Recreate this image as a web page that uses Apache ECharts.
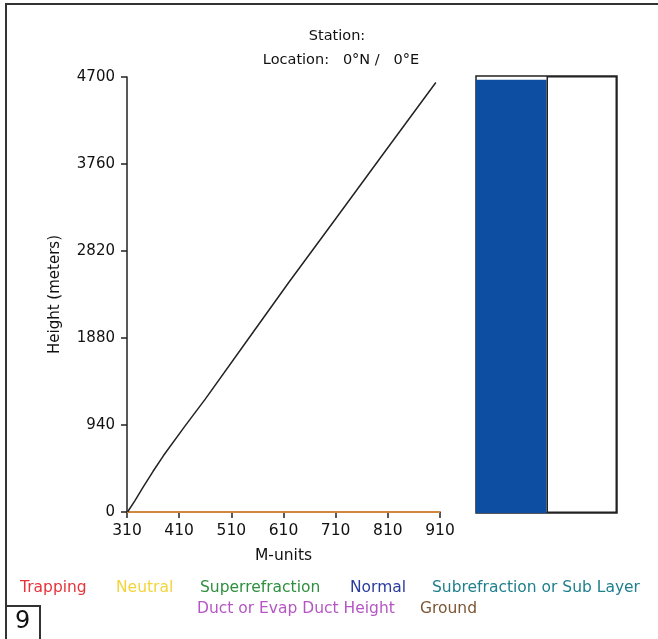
<!DOCTYPE html>
<html>
<head>
<meta charset="utf-8">
<script src="https://cdn.jsdelivr.net/npm/echarts@6/dist/echarts.min.js"></script>
<style>
  html, body { margin: 0; padding: 0; background: #fff; }
  #main { width: 658px; height: 639px; }
</style>
</head>
<body>
<div id="main"></div>
<script>
// M-unit profile
var mUnits = [311, 325, 340, 360, 380, 420, 460, 540, 620, 709, 800, 902];
var heights = [0, 120, 260, 440, 610, 920, 1220, 1850, 2480, 3160, 3860, 4640];

// ground line along the bottom
var groundM = [310, 910];
var groundH = [0, 0];

// right hand column: refraction class by height
var columnNames = ["Normal", "Layer"];
var columnValues = [4660, 4700];

var legendNames = ["Trapping", "Neutral", "Superrefraction", "Normal", "Subrefraction or Sub Layer",
  "Duct or Evap Duct Height", "Ground"];
var legendColors = ["#e8333b", "#f4d43c", "#2f8f3f", "#2b3c9c", "#1f7f8c", "#b556c4", "#7c5634"];

var chartDom = document.getElementById("main");
var myChart = echarts.init(chartDom);
var font = "DejaVu Sans";

// legend as coloured words (x, y in pixels)
var legendPos = [[20, 589], [116, 589], [200, 589], [350, 589], [432, 589], [197, 610], [420, 610]];
var legendText = legendNames.map(function (name, i) {
  return {
    type: "text",
    left: legendPos[i][0],
    top: legendPos[i][1] - 9,
    style: { text: name, fill: legendColors[i], font: "15.5px " + font }
  };
});

var option = {
  animation: false,
  backgroundColor: "#fff",
  title: [
    { text: "Station:", left: 332, top: 24, textAlign: "center",
      textStyle: { fontSize: 14.5, fontWeight: "normal", color: "#111", fontFamily: font } },
    { text: "Location:   0°N /   0°E", left: 336, top: 48, textAlign: "center",
      textStyle: { fontSize: 14.5, fontWeight: "normal", color: "#111", fontFamily: font } }
  ],
  grid: [
    { left: 127, top: 77, width: 313, height: 435 },
    { left: 476, top: 76, width: 141, height: 437, show: true, borderColor: "#222", borderWidth: 1.5, backgroundColor: "transparent" }
  ],
  xAxis: [
    {
      gridIndex: 0, type: "value", min: 310, max: 910, interval: 100,
      name: "M-units", nameLocation: "middle", nameGap: 36,
      nameTextStyle: { fontSize: 15.5, color: "#111", fontFamily: font },
      axisLine: { onZero: false, lineStyle: { color: "#222", width: 1.5 } },
      axisTick: { length: 6, lineStyle: { color: "#222", width: 1.5 } },
      axisLabel: { margin: 11, fontSize: 15.5, color: "#111", fontFamily: font },
      splitLine: { show: false }
    },
    {
      gridIndex: 1, type: "category", data: columnNames, show: false
    }
  ],
  yAxis: [
    {
      gridIndex: 0, type: "value", min: 0, max: 4700, interval: 940,
      name: "Height (meters)", nameLocation: "middle", nameGap: 64,
      nameTextStyle: { fontSize: 15, color: "#111", fontFamily: font },
      axisLine: { show: true, lineStyle: { color: "#222", width: 1.5 } },
      axisTick: { show: true, length: 6, lineStyle: { color: "#222", width: 1.5 } },
      axisLabel: { margin: 12, fontSize: 15, color: "#111", fontFamily: font,
        formatter: function (v) { return String(v); } },
      splitLine: { show: false }
    },
    {
      gridIndex: 1, type: "value", min: 0, max: 4700, show: false, splitLine: { show: false }
    }
  ],
  series: [
    {
      name: "Ground", type: "line", xAxisIndex: 0, yAxisIndex: 0,
      data: groundM.map(function (m, i) { return [m, groundH[i]]; }),
      showSymbol: false, lineStyle: { color: "#d0873f", width: 2 }, z: 3
    },
    {
      name: "M-units", type: "line", xAxisIndex: 0, yAxisIndex: 0,
      data: mUnits.map(function (m, i) { return [m, heights[i]]; }),
      showSymbol: false, lineStyle: { color: "#222", width: 1.5 }, z: 4
    },
    {
      name: "Column", type: "bar", xAxisIndex: 1, yAxisIndex: 1,
      barWidth: "100%", barGap: "0%",
      data: [
        { value: columnValues[0], itemStyle: { color: "#0d4ea2" } },
        { value: columnValues[1], itemStyle: { color: "#fff", borderColor: "#222", borderWidth: 1.5 } }
      ]
    }
  ],
  graphic: [
    { type: "rect", shape: { x: 6, y: 4, width: 700, height: 700 },
      style: { fill: "none", stroke: "#333", lineWidth: 2 }, silent: true },
    { type: "rect", shape: { x: 6, y: 606, width: 34, height: 40 },
      style: { fill: "#fff", stroke: "#333", lineWidth: 2 }, silent: true },
    { type: "text", left: 15, top: 610, style: { text: "9", fill: "#111", font: "24px " + font } }
  ].concat(legendText)
};

option && myChart.setOption(option);
</script>
</body>
</html>
